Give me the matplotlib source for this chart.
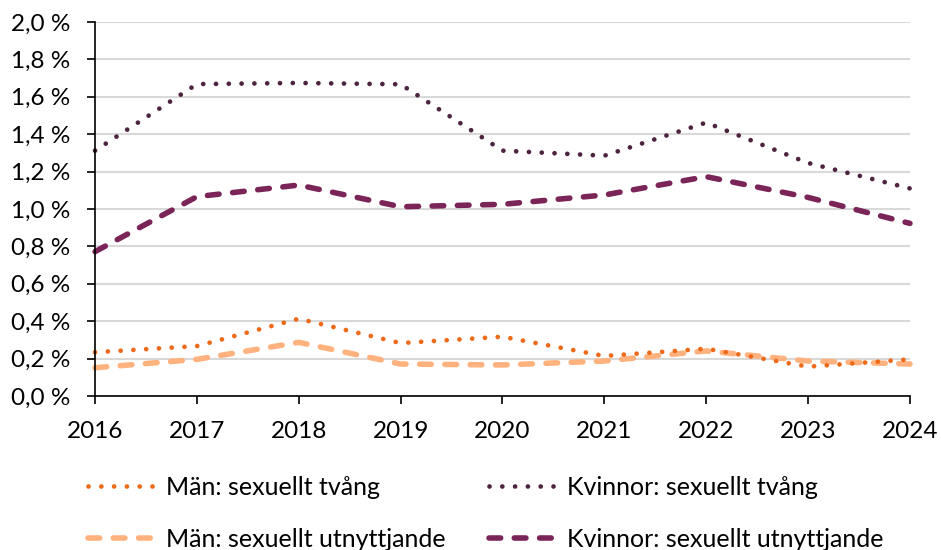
import numpy as np
import matplotlib
matplotlib.use("Agg")
import matplotlib.pyplot as plt
from matplotlib.ticker import FuncFormatter

plt.rcParams['font.family'] = ['Lato', 'DejaVu Sans']

# Data (andel, %)
years = [2016, 2017, 2018, 2019, 2020, 2021, 2022, 2023, 2024]
man_tvang = [0.234, 0.267, 0.413, 0.283, 0.317, 0.214, 0.253, 0.157, 0.196]
kvinnor_tvang = [1.312, 1.668, 1.674, 1.667, 1.312, 1.285, 1.462, 1.246, 1.11]
man_utnytt = [0.151, 0.196, 0.287, 0.171, 0.166, 0.187, 0.241, 0.187, 0.171]
kvinnor_utnytt = [0.772, 1.066, 1.128, 1.012, 1.025, 1.075, 1.173, 1.062, 0.923]

labels = ['Män: sexuellt tvång', 'Kvinnor: sexuellt tvång',
          'Män: sexuellt utnyttjande', 'Kvinnor: sexuellt utnyttjande']
colors = ['#EE6A18', '#4E2340', '#FFB27D', '#7B2457']

DOT = (0, (0.01, 2.7))
DASH = (0, (2.1, 2.45))

fig = plt.figure(figsize=(9.41, 5.5), dpi=100)
ax = fig.add_axes([0.101, 0.28, 0.866, 0.68])

series = [man_tvang, kvinnor_tvang, man_utnytt, kvinnor_utnytt]
styles = [DOT, DOT, DASH, DASH]
widths = [3.4, 3.4, 4.0, 4.0]

lines = {}
# ritordning: kvinnor först, män överst
for idx in [1, 3, 2, 0]:
    lines[idx], = ax.plot(years, series[idx], color=colors[idx],
                          linewidth=widths[idx], linestyle=styles[idx],
                          dash_capstyle='round', dash_joinstyle='round',
                          solid_capstyle='round', label=labels[idx],
                          zorder=3, clip_on=False)

ax.set_xlim(2016, 2024)
ax.set_ylim(0, 2.0)
ax.set_xticks(years)
ax.set_yticks(np.arange(0, 2.01, 0.2))
ax.yaxis.set_major_formatter(FuncFormatter(lambda v, p: f"{v:.1f} %".replace('.', ',')))

ax.grid(True, axis='y', color='#D9D9D9', linewidth=1.5, zorder=0)
ax.set_axisbelow(True)
for s in ['top', 'right']:
    ax.spines[s].set_visible(False)
for s in ['left', 'bottom']:
    ax.spines[s].set_linewidth(1.2)
    ax.spines[s].set_zorder(4)
ax.tick_params(axis='both', direction='out', length=6, width=1.2,
               labelsize=17.5, colors='black')
ax.tick_params(axis='x', pad=12)
ax.tick_params(axis='y', pad=12)

# kolumnvis ordning för 2 kolumner
order = [0, 2, 1, 3]
fig.legend([lines[i] for i in order], [labels[i] for i in order],
           loc='upper left', bbox_to_anchor=(0.0935, 0.135), ncol=2,
           frameon=False, fontsize=18, handlelength=2.68,
           handletextpad=0.44, columnspacing=1.72, labelspacing=1.16,
           borderpad=0, borderaxespad=0)

fig.savefig('out.png', dpi=100)
